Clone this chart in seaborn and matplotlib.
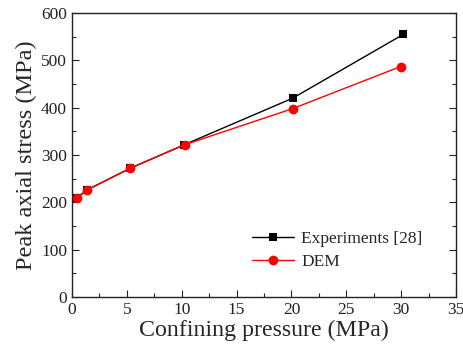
import matplotlib
matplotlib.use("Agg")
import matplotlib.pyplot as plt
import seaborn as sns
import pandas as pd
from matplotlib.ticker import MultipleLocator

sns.set_style("ticks")
plt.rcParams['font.family'] = ['Liberation Serif', 'DejaVu Serif']
plt.rcParams['mathtext.fontset'] = 'stix'

exp_x = [0.45, 1.35, 5.3, 10.25, 20.1, 30.2]
exp_y = [209, 226, 272, 322, 420, 555]
dem_x = [0.45, 1.35, 5.3, 10.3, 20.1, 29.95]
dem_y = [209, 226, 272, 322, 398, 487]

fig = plt.figure(figsize=(4.64, 3.52), dpi=100)
ax = fig.add_axes([0.155, 0.156, 0.828, 0.807])

sns.lineplot(x=exp_x, y=exp_y, ax=ax, color='black', marker='s', markersize=6,
             linewidth=1.0, markeredgewidth=0, label='Experiments [28]')
sns.lineplot(x=dem_x, y=dem_y, ax=ax, color='red', marker='o', markersize=7,
             linewidth=1.0, markeredgewidth=0, label='DEM')

ax.set_xlim(0, 35)
ax.set_ylim(0, 600)
ax.xaxis.set_major_locator(MultipleLocator(5))
ax.xaxis.set_minor_locator(MultipleLocator(2.5))
ax.yaxis.set_major_locator(MultipleLocator(100))
ax.yaxis.set_minor_locator(MultipleLocator(50))
ax.tick_params(which='both', direction='in', top=False, right=True, labelsize=12.5, width=0.8,
               colors='#222222', labelcolor='#222222')
ax.tick_params(which='major', length=5)
ax.tick_params(which='minor', length=3)
for s in ax.spines.values():
    s.set_linewidth(1.0)
    s.set_color('#222222')

ax.set_xlabel('Confining pressure (MPa)', fontsize=17.2, labelpad=1)
ax.set_ylabel('Peak axial stress (MPa)', fontsize=17.5, labelpad=3)

ax.legend(loc='lower right', bbox_to_anchor=(0.93, 0.072), frameon=False, fontsize=12.5,
          handlelength=2.4, handletextpad=0.4, labelspacing=0.4, borderaxespad=0)

fig.savefig('out.png', dpi=100)
